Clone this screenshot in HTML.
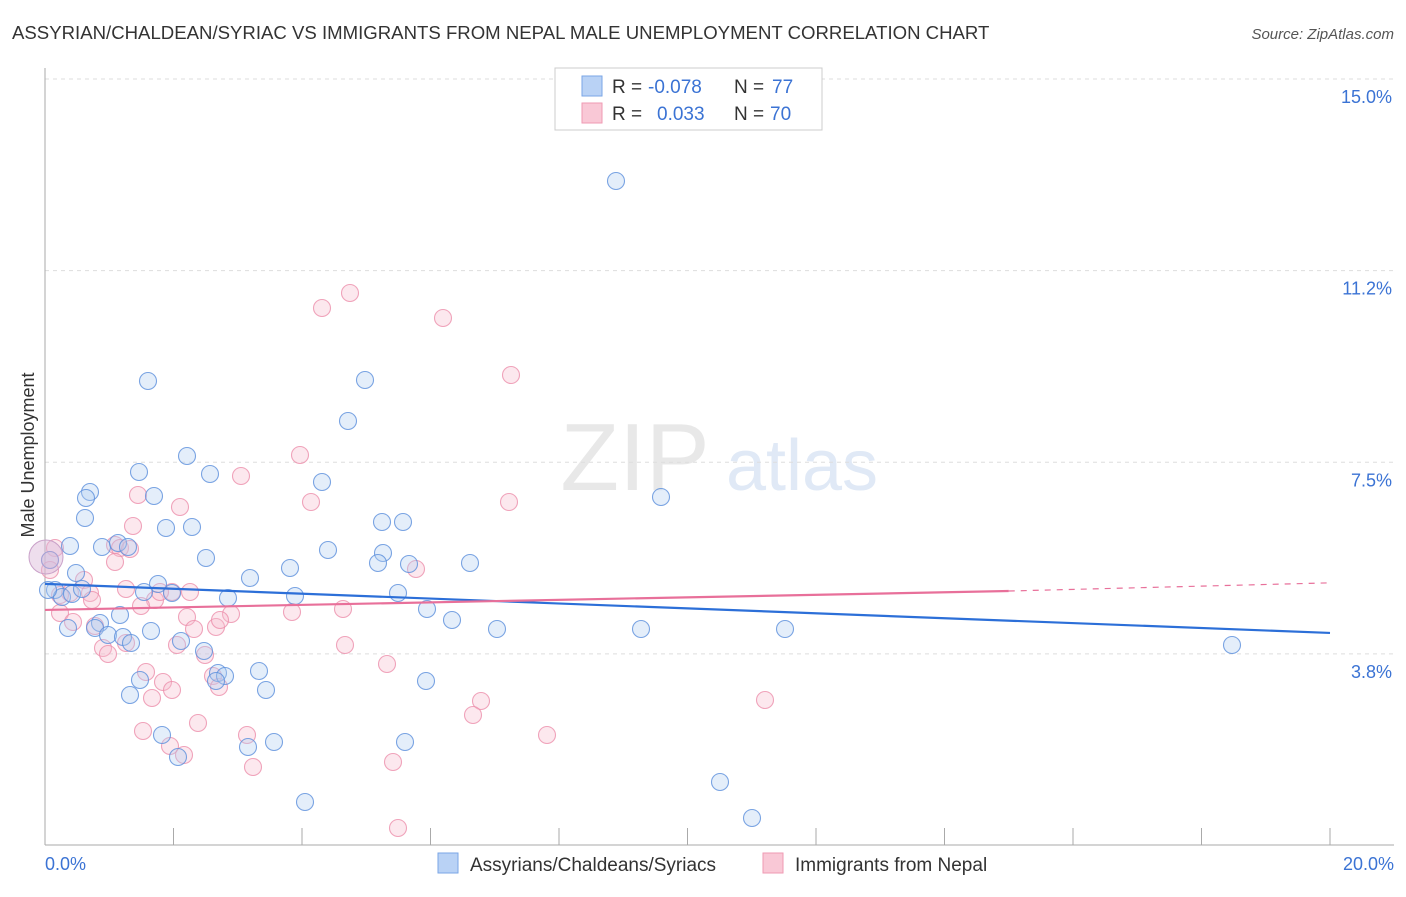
<!DOCTYPE html>
<html><head><meta charset="utf-8"><style>
body{margin:0;background:#fff;font-family:"Liberation Sans",sans-serif}
svg text{font-family:"Liberation Sans",sans-serif}
</style></head><body>
<svg id="c" width="1406" height="892">
<text x="12" y="39" font-size="18.6" fill="#333">ASSYRIAN/CHALDEAN/SYRIAC VS IMMIGRANTS FROM NEPAL MALE UNEMPLOYMENT CORRELATION CHART</text>
<text x="1394" y="39" font-size="15" fill="#555" text-anchor="end" font-style="italic">Source: ZipAtlas.com</text>
<text x="635" y="490" font-size="96" fill="#e8e8e8" font-family="Liberation Serif" text-anchor="middle">ZIP</text>
<text x="802" y="490" font-size="72" fill="#e0e9f6" text-anchor="middle">atlas</text>
<g id="grid"></g><g id="pts"></g><g id="lines"></g>
<text transform="translate(34,455) rotate(-90)" font-size="18" fill="#333" text-anchor="middle">Male Unemployment</text>
<text x="45" y="870" font-size="18" fill="#3b73d4">0.0%</text>
<text x="1394" y="870" font-size="18" fill="#3b73d4" text-anchor="end">20.0%</text>
<g>
<rect x="555" y="68" width="267" height="62" fill="#fff" stroke="#ccc"/>
<rect x="582" y="76" width="20" height="20" fill="#b9d2f5" stroke="#7aa6e6"/>
<rect x="582" y="103" width="20" height="20" fill="#f9c8d6" stroke="#ef9ab3"/>
<text x="612" y="93" font-size="19" fill="#333">R =</text>
<text x="648" y="93" font-size="19" fill="#3b73d4">-0.078</text>
<text x="734" y="93" font-size="19" fill="#333">N =</text>
<text x="772" y="93" font-size="19" fill="#3b73d4">77</text>
<text x="612" y="120" font-size="19" fill="#333">R =</text>
<text x="657" y="120" font-size="19" fill="#3b73d4">0.033</text>
<text x="734" y="120" font-size="19" fill="#333">N =</text>
<text x="770" y="120" font-size="19" fill="#3b73d4">70</text>
</g>
<g>
<rect x="438" y="853" width="20" height="20" fill="#b9d2f5" stroke="#7aa6e6"/>
<text x="470" y="871" font-size="19" fill="#333">Assyrians/Chaldeans/Syriacs</text>
<rect x="763" y="853" width="20" height="20" fill="#f9c8d6" stroke="#ef9ab3"/>
<text x="795" y="871" font-size="19" fill="#333">Immigrants from Nepal</text>
</g>
</svg>
<script>
const yTicks=[15.0,11.25,7.5,3.75];
const yTickLabels=["15.0%","11.2%","7.5%","3.8%"];
const bluePx=[[616,181],[148,381],[365,380],[348,421],[187,456],[139,472],[210,474],[322,482],[661,497],[90,492],[154,496],[86,498],[85,518],[166,528],[192,527],[382,522],[403,522],[70,546],[102,547],[118,543],[128,547],[206,558],[328,550],[383,553],[378,563],[409,564],[470,563],[290,568],[250,578],[76,573],[158,584],[55,590],[62,597],[72,594],[82,589],[144,592],[172,593],[228,598],[295,596],[398,593],[427,609],[452,620],[497,629],[641,629],[785,629],[1232,645],[120,615],[100,623],[68,628],[95,628],[108,635],[123,637],[131,643],[151,631],[181,641],[204,651],[218,673],[225,676],[216,681],[259,671],[266,690],[140,680],[130,695],[426,681],[162,735],[178,757],[248,747],[274,742],[405,742],[305,802],[720,782],[752,818],[50,560],[48,590]];
const pinkPx=[[350,293],[322,308],[443,318],[511,375],[300,455],[241,476],[138,495],[180,507],[311,502],[509,502],[133,526],[115,545],[120,548],[130,549],[55,548],[50,560],[416,569],[84,580],[126,589],[172,592],[155,600],[141,606],[90,593],[70,593],[60,613],[73,622],[95,626],[103,648],[108,654],[126,643],[187,617],[194,629],[216,627],[231,614],[292,612],[343,609],[177,645],[205,655],[345,645],[387,664],[146,672],[163,682],[172,690],[152,698],[213,676],[219,687],[481,701],[473,715],[765,700],[143,731],[198,723],[247,735],[547,735],[170,746],[184,755],[253,767],[393,762],[398,828],[60,595],[92,600],[50,570],[115,562],[160,592],[190,592],[220,620]];
const blueX=bluePx.map(p=>(p[0]-45)/64.25), blueY=bluePx.map(p=>15-(p[1]-79)/51.1);
const pinkX=pinkPx.map(p=>(p[0]-45)/64.25), pinkY=pinkPx.map(p=>15-(p[1]-79)/51.1);
const blueTrend=[5.12,4.16], pinkTrend=[4.61,4.98,5.14];
const X=v=>45+v*64.25, Y=v=>79+(15-v)*51.1;
const NS="http://www.w3.org/2000/svg";
function mk(t,a,p){const e=document.createElementNS(NS,t);for(const k in a)e.setAttribute(k,a[k]);p.appendChild(e);return e;}
const g=document.getElementById('grid');
yTicks.forEach((v,i)=>{
 const l=mk('line',{x1:45,x2:1394,y1:Y(v),y2:Y(v),stroke:'#ddd','stroke-dasharray':'4,4'},g);
 
 
 const t=mk('text',{x:1392,y:Y(v)+24,'font-size':18,fill:'#3b73d4','text-anchor':'end'},g);
 t.textContent=yTickLabels[i];
 
 
});
mk('line',{x1:45,x2:45,y1:68,y2:845,stroke:'#aaa'},g);
mk('line',{x1:45,x2:1394,y1:845,y2:845,stroke:'#aaa'},g);
for(let i=0;i<=10;i++){const t=mk('line',{x1:X(i*2),x2:X(i*2),y1:828,y2:845,stroke:'#aaa'},g);
 
 }
const pg=document.getElementById('pts');
function dots(xs,ys,fill,stroke,name){xs.forEach((x,i)=>{
 const c=mk('circle',{cx:X(x),cy:Y(ys[i]),r:8.5,fill:fill,'fill-opacity':0.35,stroke:stroke,'stroke-width':1.1,'stroke-opacity':0.8},pg);
 
 });}
dots(pinkX,pinkY,'#f7bccd','#ec8fab','nepal-point');
dots(blueX,blueY,'#b3cdf2','#5b8fdc','assyrian-point');
mk('circle',{cx:46,cy:557,r:17,fill:'#d9b6d6','fill-opacity':0.45,stroke:'#c9a0c8'},pg);
const lg=document.getElementById('lines');
let l=mk('line',{x1:X(0),y1:Y(blueTrend[0]),x2:X(20),y2:Y(blueTrend[1]),stroke:'#2c6fd8','stroke-width':2.2},lg);


l=mk('line',{x1:X(0),y1:Y(pinkTrend[0]),x2:X(15),y2:Y(pinkTrend[1]),stroke:'#e8709a','stroke-width':2.2},lg);


l=mk('line',{x1:X(15),y1:Y(pinkTrend[1]),x2:X(20),y2:Y(pinkTrend[2]),stroke:'#e8709a','stroke-width':1.2,'stroke-dasharray':'6,6'},lg);


</script>
</body></html>
